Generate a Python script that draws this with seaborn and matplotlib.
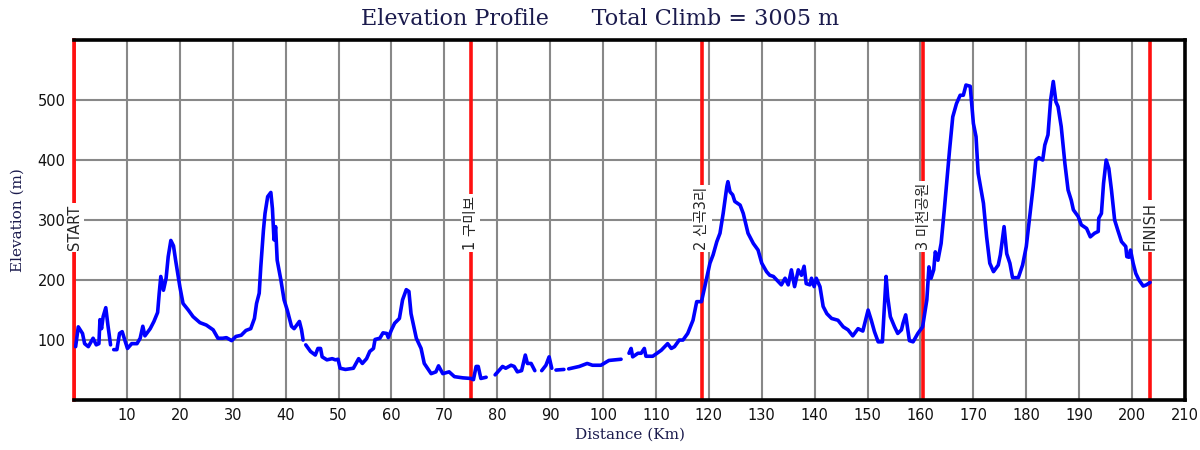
import numpy as np
import pandas as pd
import matplotlib
matplotlib.use("Agg")
import matplotlib.pyplot as plt
import seaborn as sns

# distance (km) / elevation (m), NaN = gap in the track
dist = [0.3, 0.8, 1.6, 2.0, 2.7, 3.6, 4.2, 4.7, 4.9, 5.2, 5.5, 6.0, 6.4, 6.9, np.nan,
        7.5, 8.1, 8.6, 9.1, 9.7, 10.1, 10.9, 11.9, 12.5, 13.0, 13.4, 14.4, 15.1, 15.8,
        16.1, 16.4, 16.9, 17.4, 17.8, 18.3, 18.8, 19.2, 20.0, 20.6, 21.6, 22.5, 23.8,
        25.0, 26.3, 27.2, 28.1, 28.8, 29.8, 30.6, 31.6, 32.5, 33.4, 34.1, 34.5, 35.0,
        35.3, 35.8, 36.1, 36.6, 37.2, 37.5, 37.8, 38.1, 38.4, 39.1, 39.7, 40.3, 41.1,
        41.6, 42.1, 42.6, 43.0, 43.3, np.nan,
        43.8, 44.7, 45.6, 46.1, 46.6, 46.9, 47.8, 48.8, 49.4, 49.9, 50.3, 51.3, 52.8,
        53.8, 54.5, 55.3, 55.9, 56.6, 56.9, 57.8, 58.4, 59.1, 59.4, 60.0, 60.6, 61.5,
        62.1, 62.8, 63.3, 63.7, 64.7, 65.6, 66.2, 67.5, 68.4, 68.9, 69.7, 70.9, 71.9,
        73.5, 75.0, 75.5, 76.0, 76.4, 76.9, 77.9, np.nan,
        79.6, 80.4, 81.0, 81.6, 82.6, 83.2, 83.8, 84.6, 85.3, 85.7, 86.4, 87.1, np.nan,
        88.4, 89.2, 89.8, 90.3, np.nan,
        91.1, 92.6, np.nan,
        93.5, 95.5, 97.0, 98.0, 99.6, 101.1, 103.4, np.nan,
        104.9, 105.3, 105.6, 106.6, 107.2, 107.8, 108.1, 109.4, 111.0, 112.2, 112.9,
        113.5, 114.4, 115.1, 116.0, 117.0, 117.7, 118.6, 119.3, 120.2, 120.8, 121.5,
        122.1, 122.7, 123.4, 123.6, 124.0, 124.5, 124.9, 125.9, 126.5, 127.4, 128.4,
        129.3, 130.0, 130.9, 131.5, 132.2, 133.7, 134.4, 135.0, 135.6, 136.2, 136.9,
        137.5, 138.0, 138.4, 139.1, 139.4, 139.9, 140.3, 141.0, 141.6, 142.3, 143.2,
        144.4, 145.4, 146.3, 147.2, 148.2, 149.1, 150.1, 150.7, 151.3, 152.0, 152.8,
        153.2, 153.5, 153.8, 154.3, 155.1, 155.7, 156.4, 156.7, 157.2, 157.6, 157.9,
        158.6, 159.5, 160.4, 161.2, 161.6, 162.0, 162.5, 162.8, 163.3, 163.9, 164.5,
        165.5, 166.1, 166.8, 167.5, 168.1, 168.6, 169.4, 170.0, 170.5, 170.9, 171.9,
        172.5, 173.1, 173.8, 174.7, 175.1, 175.8, 176.3, 176.9, 177.4, 178.5, 179.3,
        180.0, 180.5, 181.3, 181.8, 182.4, 183.1, 183.5, 184.1, 184.6, 185.1, 185.6,
        186.0, 186.6, 187.3, 187.9, 188.5, 188.9, 189.8, 190.4, 191.4, 192.1, 192.9,
        193.6, 193.7, 194.2, 194.6, 195.1, 195.6, 196.1, 196.7, 197.3, 198.0, 198.8,
        199.0, 199.4, 199.7, 200.2, 200.7, 201.3, 202.1, 202.7, 203.4]

elev = [89, 122, 111, 94, 89, 103, 92, 94, 134, 119, 139, 154, 125, 92, np.nan,
        84, 84, 111, 114, 97, 86, 94, 94, 103, 123, 107, 119, 131, 146,
        178, 206, 183, 203, 239, 266, 257, 233, 189, 161, 150, 139, 129,
        125, 117, 103, 103, 104, 99, 106, 108, 116, 119, 136, 161, 178,
        222, 283, 311, 339, 346, 319, 267, 289, 233, 200, 167, 150, 123,
        119, 125, 131, 117, 100, np.nan,
        92, 81, 75, 86, 86, 72, 67, 69, 67, 68, 53, 51, 53,
        69, 61, 69, 81, 86, 101, 103, 112, 111, 104, 117, 128, 136,
        167, 184, 181, 144, 103, 86, 61, 44, 47, 57, 44, 47, 39,
        37, 36, 34, 56, 56, 36, 38, np.nan,
        42, 50, 56, 53, 58, 56, 47, 49, 75, 61, 61, 49, np.nan,
        49, 58, 72, 53, np.nan,
        50, 51, np.nan,
        52, 56, 61, 58, 58, 66, 68, np.nan,
        78, 86, 72, 78, 78, 86, 73, 73, 83, 94, 86,
        89, 100, 100, 111, 133, 164, 164, 192, 228, 242, 264,
        278, 311, 356, 364, 347, 342, 331, 325, 311, 278, 261,
        250, 228, 214, 208, 206, 192, 203, 192, 217, 189, 217,
        208, 223, 194, 192, 203, 189, 203, 189, 156, 144, 136,
        133, 122, 117, 107, 119, 115, 150, 133, 114, 97, 97,
        161, 206, 172, 139, 122, 111, 117, 128, 142, 117, 99,
        97, 111, 122, 167, 222, 203, 217, 247, 233, 261, 317,
        417, 472, 494, 508, 508, 525, 523, 461, 439, 378, 328,
        272, 228, 214, 225, 242, 289, 244, 228, 204, 204, 225,
        256, 294, 356, 400, 404, 400, 425, 442, 500, 531, 497,
        489, 456, 394, 350, 333, 317, 306, 292, 286, 272, 278,
        281, 303, 311, 361, 400, 386, 350, 300, 283, 264, 256,
        239, 238, 250, 228, 211, 200, 190, 192, 196]

cp_km = [0.0, 75.0, 118.7, 160.5, 203.4]
cp_names = ["START", "1 구미보", "2 신곡3리", "3 미천공원", "FINISH"]
x_ticks = list(range(10, 211, 10))
y_ticks = [100, 200, 300, 400, 500]

df = pd.DataFrame({"dist": dist, "elev": elev})
df["seg"] = df["elev"].isna().cumsum()
df = df.dropna()

navy = "#1b1b4d"
sns.set_style("white")
plt.rcParams["font.family"] = ["DejaVu Sans", "Noto Sans CJK KR"]

fig = plt.figure(figsize=(12, 4.5), dpi=100)
ax = fig.add_axes([0.0617, 0.111, 0.9258, 0.8])

ax.set_xlim(0, 210)
ax.set_ylim(0, 600)
ax.set_xticks(x_ticks)
ax.set_yticks(y_ticks)
ax.grid(True, color="#888888", linewidth=1.5, zorder=0)
ax.set_axisbelow(True)
ax.tick_params(length=0, labelsize=10.5, pad=6, colors="#111111")

for km in cp_km:
    ax.axvline(km, color="#ff1010", linewidth=2.6, zorder=2)

sns.lineplot(data=df, x="dist", y="elev", units="seg", estimator=None,
             color="#0000ff", linewidth=2.6, ax=ax, zorder=3, sort=False)

for km, name in zip(cp_km, cp_names):
    ax.text(km, 250, name, rotation=90, rotation_mode="anchor", ha="left",
            va="center", fontsize=10.5, zorder=4,
            family=["DejaVu Sans", "Noto Sans CJK KR"],
            bbox=dict(facecolor="white", edgecolor="none", pad=1.5))

for s in ax.spines.values():
    s.set_color("black")
    s.set_linewidth(2.6)
ax.spines["left"].set_color("#ff1010")

ax.set_xlabel("Distance (Km)", family="DejaVu Serif", fontsize=11, color=navy, labelpad=3)
ax.set_ylabel("Elevation (m)", family="DejaVu Serif", fontsize=11, color=navy, labelpad=9)
fig.text(0.5, 0.958, "Elevation Profile      Total Climb = 3005 m", family="DejaVu Serif",
         fontsize=16, color=navy, ha="center", va="center")

fig.savefig("out.png", dpi=100)
